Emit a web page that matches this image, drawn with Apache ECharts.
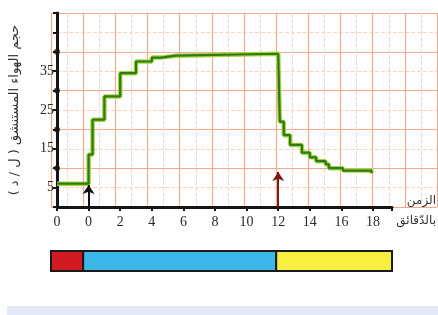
<!DOCTYPE html>
<html>
<head>
<meta charset="utf-8">
<script src="https://cdn.jsdelivr.net/npm/echarts@6/dist/echarts.min.js"></script>
<style>
  html, body { margin: 0; padding: 0; background: #fff; }
  #container { width: 438px; height: 315px; }
</style>
</head>
<body>
<div id="container"></div>
<script>
var dom = document.getElementById('container');
var myChart = echarts.init(dom, null, { renderer: 'canvas' });

// labels of the x axis (first "0" sits at the broken start -2)
var xTickValues = [-2, 0, 2, 4, 6, 8, 10, 12, 14, 16, 18];
var xTickLabels = ['0', '0', '2', '4', '6', '8', '10', '12', '14', '16', '18'];
var yTickLabels = [5, 15, 25, 35];

// step curve : time (min) where the level changes, new volume (L/min)
var stepTimes = [-2, 0, 0.25, 1, 2, 3, 4, 4.6, 5.5, 12, 12.1, 12.35, 12.75, 13.5, 14, 14.4, 15, 15.2, 16.1, 17.9];
var stepVolumes = [6, 13.5, 22.5, 28.5, 34.5, 37.5, 38.5, 39, 39.5, 39.5, 22, 18.5, 16, 14, 12.8, 11.8, 11, 10, 9.4, 8.7];

// arrows on the axis
var arrowTimes = [0, 12];
var arrowTops = [5.7, 9];
var arrowColors = ['#111111', '#7a1a12'];

// coloured phase bar under the chart
var phaseStart = [-2, 0, 12];
var phaseEnd = [0, 12, 19.2];
var phaseColors = ['#d11a22', '#3db6e8', '#f7ee40'];

// big dots on the y axis
var yDots = [10, 20, 30, 40];

var gridMajor = '#f3aa8e';
var gridMinor = '#f8d5c4';

var curve = stepTimes.map(function (t, i) { return [t, stepVolumes[i]]; });

var arrowLines = arrowTimes.map(function (t, i) {
    return [
        { coord: [t, 0], lineStyle: { color: arrowColors[i] }, itemStyle: { color: arrowColors[i] } },
        { coord: [t, arrowTops[i]] }
    ];
});

var phases = phaseStart.map(function (s, i) { return [s, phaseEnd[i], i]; });

var option = {
    animation: false,
    backgroundColor: '#ffffff',
    grid: [
        { left: 51, right: 1, top: 13, bottom: 108 },
        { left: 51, right: 46, top: 13, bottom: 108 },
        { left: 51, right: 46, top: 251, height: 20 }
    ],
    xAxis: [
        {
            gridIndex: 0, type: 'value', min: -2, max: 22, interval: 2,
            axisLine: { show: false }, axisTick: { show: false }, axisLabel: { show: false },
            splitLine: { show: true, lineStyle: { color: gridMajor, width: 1.2 } },
            minorTick: { show: false, splitNumber: 2 },
            minorSplitLine: { show: true, lineStyle: { color: gridMinor, width: 1, type: 'dashed' } }
        },
        {
            gridIndex: 1, type: 'value', min: -2, max: 19.2, interval: 2,
            axisLine: { show: true, onZero: false, lineStyle: { color: '#151515', width: 3 } },
            axisTick: { show: true, length: 4, lineStyle: { color: '#151515', width: 2 } },
            axisLabel: {
                margin: 8,
                color: '#2a2a2a',
                fontFamily: 'Liberation Serif',
                fontSize: 14,
                formatter: function (v) {
                    var k = xTickValues.indexOf(v);
                    return k >= 0 ? xTickLabels[k] : '';
                }
            },
            splitLine: { show: false }
        },
        {
            gridIndex: 2, type: 'value', min: -2, max: 19.2, show: false
        }
    ],
    yAxis: [
        {
            gridIndex: 0, type: 'value', min: 0, max: 50, interval: 10,
            axisLine: { show: false }, axisTick: { show: false }, axisLabel: { show: false },
            splitLine: { show: true, lineStyle: { color: gridMajor, width: 1.2 } },
            minorTick: { show: false, splitNumber: 2 },
            minorSplitLine: { show: true, lineStyle: { color: gridMinor, width: 1, type: 'dashed' } }
        },
        {
            gridIndex: 1, type: 'value', min: 0, max: 50, interval: 5,
            name: 'حجم الهواء المستنشق ( ل / د )',
            nameLocation: 'middle',
            nameGap: 36,
            nameRotate: 90,
            nameTextStyle: { fontFamily: 'DejaVu Sans', fontSize: 13, color: '#333' },
            axisLine: { show: true, onZero: false, lineStyle: { color: '#151515', width: 3 } },
            axisTick: { show: true, length: 4, lineStyle: { color: '#151515', width: 2 } },
            axisLabel: {
                margin: 3,
                color: '#2a2a2a',
                fontFamily: 'Liberation Serif',
                fontSize: 14,
                formatter: function (v) {
                    return yTickLabels.indexOf(v) >= 0 ? String(v) : '';
                }
            },
            splitLine: { show: false }
        },
        {
            gridIndex: 2, type: 'value', min: 0, max: 1, show: false
        }
    ],
    graphic: [
        {
            type: 'text', right: 2, top: 195,
            style: { text: 'الزمن', fontFamily: 'DejaVu Sans', fontSize: 12, fill: '#333', align: 'right' }
        },
        {
            type: 'text', right: 2, top: 215,
            style: { text: 'بالدّقائق', fontFamily: 'DejaVu Sans', fontSize: 12, fill: '#333', align: 'right' }
        },
        {
            type: 'rect', left: 7, top: 306,
            shape: { width: 431, height: 9 },
            style: { fill: '#e5e9f6' }
        }
    ],
    series: [
        {
            type: 'line', xAxisIndex: 1, yAxisIndex: 1,
            step: 'end', data: curve, symbol: 'none', silent: true,
            lineStyle: { color: '#a6d43c', width: 4.5 }
        },
        {
            type: 'line', xAxisIndex: 1, yAxisIndex: 1,
            step: 'end', data: curve, symbol: 'none', silent: true,
            lineStyle: { color: '#2f7a18', width: 2.2 },
            markLine: {
                silent: true,
                symbol: ['none', 'arrow'],
                symbolSize: 9,
                label: { show: false },
                lineStyle: { type: 'solid', width: 2 },
                data: arrowLines
            }
        },
        {
            type: 'scatter', xAxisIndex: 1, yAxisIndex: 1,
            data: yDots.map(function (v) { return [-2, v]; }),
            symbol: 'circle', symbolSize: 6, clip: false, silent: true,
            itemStyle: { color: '#151515' }, z: 5
        },
        {
            type: 'custom', xAxisIndex: 2, yAxisIndex: 2,
            data: phases, silent: true,
            renderItem: function (params, api) {
                var a = api.coord([api.value(0), 1]);
                var b = api.coord([api.value(1), 0]);
                return {
                    type: 'rect',
                    shape: { x: a[0], y: a[1], width: b[0] - a[0], height: b[1] - a[1] },
                    style: { fill: phaseColors[api.value(2)], stroke: '#1a1a1a', lineWidth: 2 }
                };
            }
        }
    ]
};

myChart.setOption(option);
</script>
</body>
</html>
